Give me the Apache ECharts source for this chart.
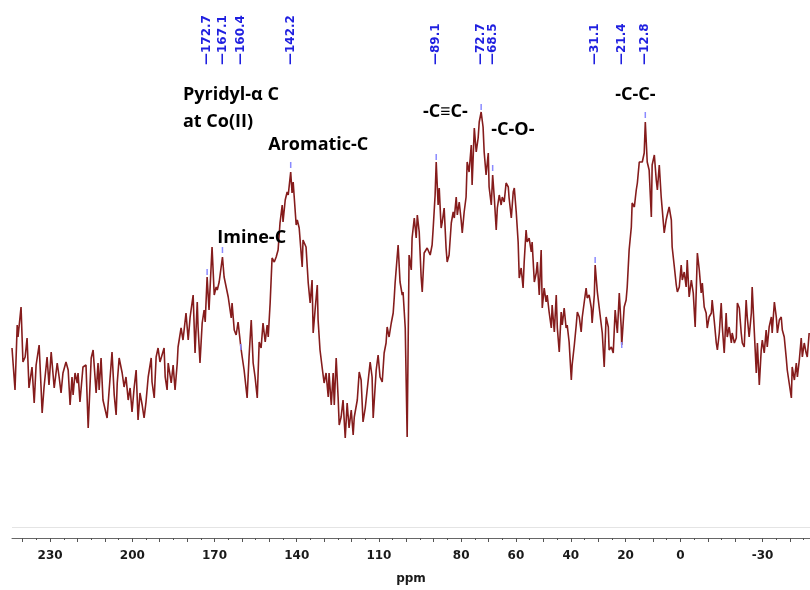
<!DOCTYPE html>
<html style="height: 100%">
<head>
<meta charset="utf-8">
<script type="text/javascript" src="https://cdn.jsdelivr.net/npm/echarts@6/dist/echarts.min.js"></script>
</head>
<body style="height: 100%; margin: 0; background: #fff">
<div id="container" style="width: 810px; height: 590px"></div>
<script type="text/javascript">
// 13C CP/MAS spectrum (ppm, intensity in a.u.)
var ppm = [
  243.9,242.8,242.0,241.7,240.6,239.9,239.1,238.4,237.7,236.6,
  235.8,235.1,234.0,233.3,232.9,232.2,231.1,230.4,229.6,228.5,
  227.4,226.7,226.0,225.3,224.9,224.2,223.4,222.7,222.0,221.6,
  220.9,220.1,219.8,219.1,218.0,216.9,216.1,215.0,214.3,213.2,
  212.5,212.1,211.4,210.7,209.2,208.5,207.4,206.6,205.9,205.5,
  204.8,203.7,203.0,202.3,201.5,200.8,200.1,199.3,198.6,197.9,
  197.2,196.4,195.7,195.0,194.2,193.1,192.8,192.0,191.3,190.6,
  189.9,188.4,188.0,187.3,186.9,185.8,185.1,184.4,183.6,183.3,
  182.2,181.5,180.4,179.6,178.9,177.8,177.1,176.3,176.0,175.3,
  174.5,173.8,173.4,172.7,172.0,
  170.9,170.1,169.4,169.0,168.3,167.1,166.5,165.8,165.0,163.9,
  163.6,162.8,162.1,161.4,160.4,159.9,159.2,158.1,157.4,156.6,
  155.9,155.2,154.4,153.7,153.0,152.3,151.5,150.8,150.4,149.7,
  149.0,148.2,147.5,146.8,146.1,145.3,145.0,144.2,143.5,143.1,
  142.2,141.7,141.3,140.2,139.8,139.1,138.0,137.7,136.6,135.8,
  135.1,134.4,134.0,133.3,132.5,132.2,131.5,130.7,130.0,129.3,
  128.5,128.2,127.4,126.7,126.3,125.6,124.9,124.5,123.8,123.1,
  122.3,121.6,120.9,120.1,119.4,119.0,117.9,117.2,116.5,115.8,
  115.0,114.3,113.2,112.5,112.1,111.0,110.3,109.6,108.8,108.1,
  107.4,107.0,106.3,105.5,104.8,104.4,104.1,
  103.0,102.3,101.5,101.2,100.4,99.7,99.0,98.2,97.9,97.1,
  96.4,96.0,95.3,94.6,94.2,93.5,92.4,92.0,91.3,90.6,
  90.2,89.5,89.1,88.4,88.0,87.3,86.9,86.2,85.5,85.1,
  84.4,83.6,82.9,82.5,81.8,81.4,80.7,80.0,79.6,78.9,
  78.2,77.8,77.1,76.3,76.0,75.2,74.5,73.8,73.4,72.7,
  72.0,71.6,70.9,70.1,69.8,69.0,68.5,67.9,67.2,66.8,
  66.1,65.4,65.0,64.3,63.6,62.8,62.5,61.7,61.0,60.6,
  59.9,59.2,58.8,58.1,57.4,57.0,56.3,55.9,55.2,54.4,
  54.1,53.3,52.6,52.2,51.5,50.8,50.4,49.7,49.0,48.6,
  47.9,47.1,46.8,46.0,45.3,44.9,44.2,43.5,43.1,42.4,
  41.7,41.3,40.6,39.8,39.5,38.7,38.0,37.6,36.9,36.2,
  35.8,35.1,34.4,34.0,33.3,32.5,32.2,31.4,31.1,30.3,
  29.6,29.3,
  28.5,27.8,27.1,26.3,26.0,25.2,24.5,23.8,23.0,22.3,
  21.6,21.4,20.5,19.8,19.4,18.7,17.9,17.6,16.8,16.1,
  15.7,15.0,14.3,13.9,13.2,12.8,12.1,11.4,10.6,10.3,
  9.5,8.8,8.4,7.7,7.0,6.6,5.9,5.2,4.8,4.1,
  3.3,3.0,2.2,1.5,1.1,0.4,-0.3,-0.7,-1.4,-2.1,
  -2.5,-3.2,-4.0,-4.7,-5.4,-6.2,-6.9,-7.6,-8.0,-8.7,
  -9.4,-9.8,-10.5,-11.3,-11.6,-12.4,-13.1,-13.5,-14.2,-14.9,
  -15.3,-16.0,-16.7,-17.1,-17.8,-18.6,-18.9,-19.7,-20.4,-20.8,
  -21.5,-22.2,-22.6,-23.3,-24.0,-24.4,-25.1,-25.9,-26.2,-27.0,
  -27.7,-28.1,-28.8,-29.5,-29.9,-30.6,-31.3,-31.7,-32.4,-33.2,
  -33.5,-34.3,-35.0,-35.4,-36.1,-36.8,-37.2,-37.9,-38.6,-39.0,
  -39.7,-40.5,-40.8,-41.6,-42.3,-42.7,-43.4,-44.1,-44.5,-45.2,
  -45.9,-46.3,-47.0
];
var intensity = [
  190,148,213,201,231,176,181,200,150,171,
  135,173,193,151,125,151,181,153,186,150,
  175,161,145,165,163,176,168,133,161,143,
  165,155,165,136,171,173,110,180,188,145,
  175,148,180,138,120,146,186,143,123,155,
  180,165,151,161,138,150,126,151,168,118,
  145,133,120,136,161,180,156,140,181,190,
  176,190,161,148,175,155,173,148,175,191,
  210,198,225,198,221,243,185,236,211,175,
  215,228,216,261,228,
  291,243,251,248,256,281,261,261,241,220,
  235,208,203,216,191,181,168,140,181,218,
  175,161,140,196,190,215,196,213,201,235,
  280,276,281,288,315,333,316,338,346,343,
  366,345,356,313,318,310,271,298,291,255,
  235,258,205,228,253,218,188,170,155,165,
  141,165,133,165,133,180,141,113,121,138,
  100,135,110,128,103,121,138,166,158,116,
  130,148,176,161,120,168,183,161,156,185,
  195,211,201,215,225,241,255,
  293,256,243,246,210,101,283,268,300,320,
  300,323,306,261,246,285,290,291,283,293,
  310,343,376,333,350,310,316,330,290,276,
  283,315,326,320,341,323,336,318,305,326,
  341,376,366,393,353,410,386,400,416,426,
  411,386,363,385,351,333,363,340,308,330,
  343,333,341,336,355,351,340,320,346,350,
  326,296,260,270,250,276,308,296,300,286,
  296,256,265,276,243,288,230,250,236,243,
  226,210,233,206,243,210,186,226,213,230,
  210,213,196,158,173,193,213,226,221,206,
  221,223,250,240,243,230,215,243,273,246,
  230,223,
  205,171,221,211,188,191,185,228,205,245,
  211,193,231,238,251,288,311,335,331,348,
  355,376,375,376,385,416,376,368,321,373,
  383,358,348,373,341,328,305,318,323,331,
  318,291,271,253,246,251,273,258,266,251,
  278,241,258,245,211,285,268,245,255,231,
  225,210,221,225,238,216,195,188,205,235,
  211,185,225,201,211,195,205,195,200,235,
  230,205,195,191,238,221,201,225,251,205,
  165,195,153,188,198,185,208,191,211,221,
  205,236,221,205,218,221,208,201,181,168,
  155,140,171,158,175,161,178,200,181,195,
  185,181,205
];
var peakPpm = [172.7, 167.1, 160.4, 142.2, 89.1, 72.7, 68.5, 31.1, 21.4, 12.8];
var peakTop = [266, 288, 191, 373, 381, 431, 370, 278, 193, 423];
var tickLabels = [230, 200, 170, 140, 110, 80, 60, 40, 20, 0, -30];
var notes = ['Pyridyl-α C\nat Co(II)', 'Aromatic-C', 'Imine-C', '-C≡C-', '-C-O-', '-C-C-'];
var notePpm = [181.5, 150.4, 169.0, 93.9, 69.0, 23.8];
var noteTop = [430, 393, 300, 426, 408, 443];

var majorTicks = [], minorTicks = [];
for (var t = -40; t <= 240; t += 10) { majorTicks.push(t); minorTicks.push(t - 5); }

var dom = document.getElementById('container');
var myChart = echarts.init(dom);
var spectrum = ppm.map(function (p, i) { return [p, intensity[i]]; });
var axisFont = {fontFamily: 'DejaVu Sans', fontWeight: 'bold', fontSize: 12, color: '#1a1a1a'};

var option = {
  animation: false,
  backgroundColor: '#fff',
  grid: {left: 12, right: 0, top: 0, bottom: 52},
  xAxis: [{
    type: 'value', inverse: true, min: -47.3, max: 243.9,
    name: 'ppm', nameLocation: 'middle', nameGap: 35,
    nameTextStyle: axisFont,
    axisLine: {onZero: false, lineStyle: {color: '#666', width: 1}},
    axisTick: {customValues: majorTicks, length: 4, lineStyle: {color: '#555'}},
    axisLabel: Object.assign({customValues: tickLabels, margin: 12}, axisFont),
    splitLine: {show: false}
  }, {
    type: 'value', inverse: true, min: -47.3, max: 243.9, position: 'bottom',
    axisLine: {show: false},
    axisTick: {customValues: minorTicks, length: 2, lineStyle: {color: '#555'}},
    axisLabel: {show: false},
    splitLine: {show: false}
  }],
  yAxis: {type: 'value', min: 0, max: 538, show: false},
  series: [{
    type: 'line',
    data: spectrum,
    showSymbol: false,
    lineStyle: {color: '#851c1c', width: 1.6},
    markLine: {
      silent: true, symbol: 'none', label: {show: false},
      lineStyle: {color: '#e4e4e4', width: 1, type: 'solid'},
      data: [{yAxis: 11}]
    },
    z: 2
  }, {
    type: 'scatter',
    data: peakPpm.map(function (p, i) { return [p, peakTop[i]]; }),
    symbol: 'rect', symbolSize: [1.5, 6],
    itemStyle: {color: '#8a8aff', opacity: 1},
    z: 3
  }, {
    type: 'scatter',
    data: peakPpm.map(function (p) { return [p, 473]; }),
    symbolSize: 0,
    itemStyle: {opacity: 1},
    label: {
      show: true, position: 'inside', rotate: 90, align: 'left', verticalAlign: 'middle',
      formatter: function (p) { return '\u2014' + p.value[0].toFixed(1); },
      fontFamily: 'DejaVu Sans', fontWeight: 'bold', fontSize: 12, color: '#1f1fe0', opacity: 1
    }
  }, {
    type: 'scatter',
    data: notes.map(function (n, i) { return {name: n, value: [notePpm[i], noteTop[i]]}; }),
    symbolSize: 0,
    itemStyle: {opacity: 1},
    label: {
      show: true, position: 'inside', align: 'left', verticalAlign: 'middle',
      formatter: '{b}', lineHeight: 27,
      fontFamily: 'Open Sans', fontWeight: 'bold', fontSize: 18, color: '#000', opacity: 1
    }
  }]
};
myChart.setOption(option);
</script>
</body>
</html>
